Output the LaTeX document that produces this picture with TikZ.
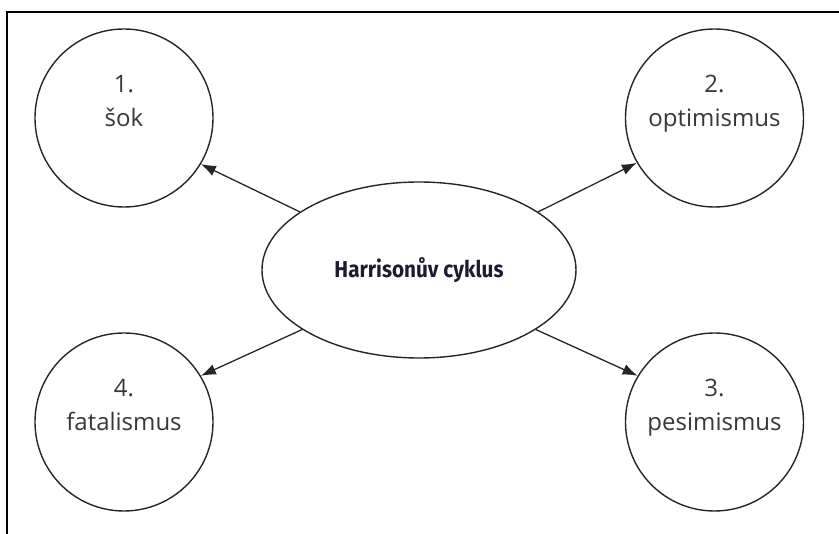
\documentclass[tikz,border=0pt]{standalone}
\usepackage{fontspec}
\setmainfont{Open Sans}
\newfontfamily\condfont[FakeStretch=0.9]{Fira Sans}
\usetikzlibrary{shapes.geometric,arrows.meta}
\definecolor{txtgray}{RGB}{55,55,55}
\definecolor{navy}{RGB}{28,28,48}
\begin{document}
\begin{tikzpicture}[x=1pt,y=-1pt,
  stage/.style={circle,draw=black!85,line width=1.4pt,minimum size=178pt,inner sep=0pt,
    align=center,text=txtgray,font=\fontsize{24}{34}\selectfont,text height=17pt,text depth=0pt},
  hub/.style={ellipse,draw=black!85,line width=1.4pt,minimum width=314pt,minimum height=176pt,inner sep=0pt,
    text=navy,font=\condfont\bfseries\fontsize{23}{28}\selectfont},
  link/.style={-{Latex[length=15pt,width=11pt]},line width=1.3pt,draw=black!85}]
\useasboundingbox (0,0) rectangle (839,534);
\draw[line width=2.4pt] (7,534) -- (7,12) -- (839,12);
\node[hub] (e) at (419,270) {Harrisonův cyklus};
\node[stage] (c1) at (124,118) {1.\\šok};
\node[stage] (c2) at (714.5,118) {2.\\optimismus};
\node[stage] (c3) at (714.5,422) {3.\\pesimismus};
\node[stage] (c4) at (124,422) {4.\\fatalismus};
\draw[link] (e.154) -- (c1.-31);
\draw[link] (e.26) -- (c2.210);
\draw[link] (e.-27) -- (c3.149);
\draw[link] (e.207) -- (c4.31);
\end{tikzpicture}
\end{document}
